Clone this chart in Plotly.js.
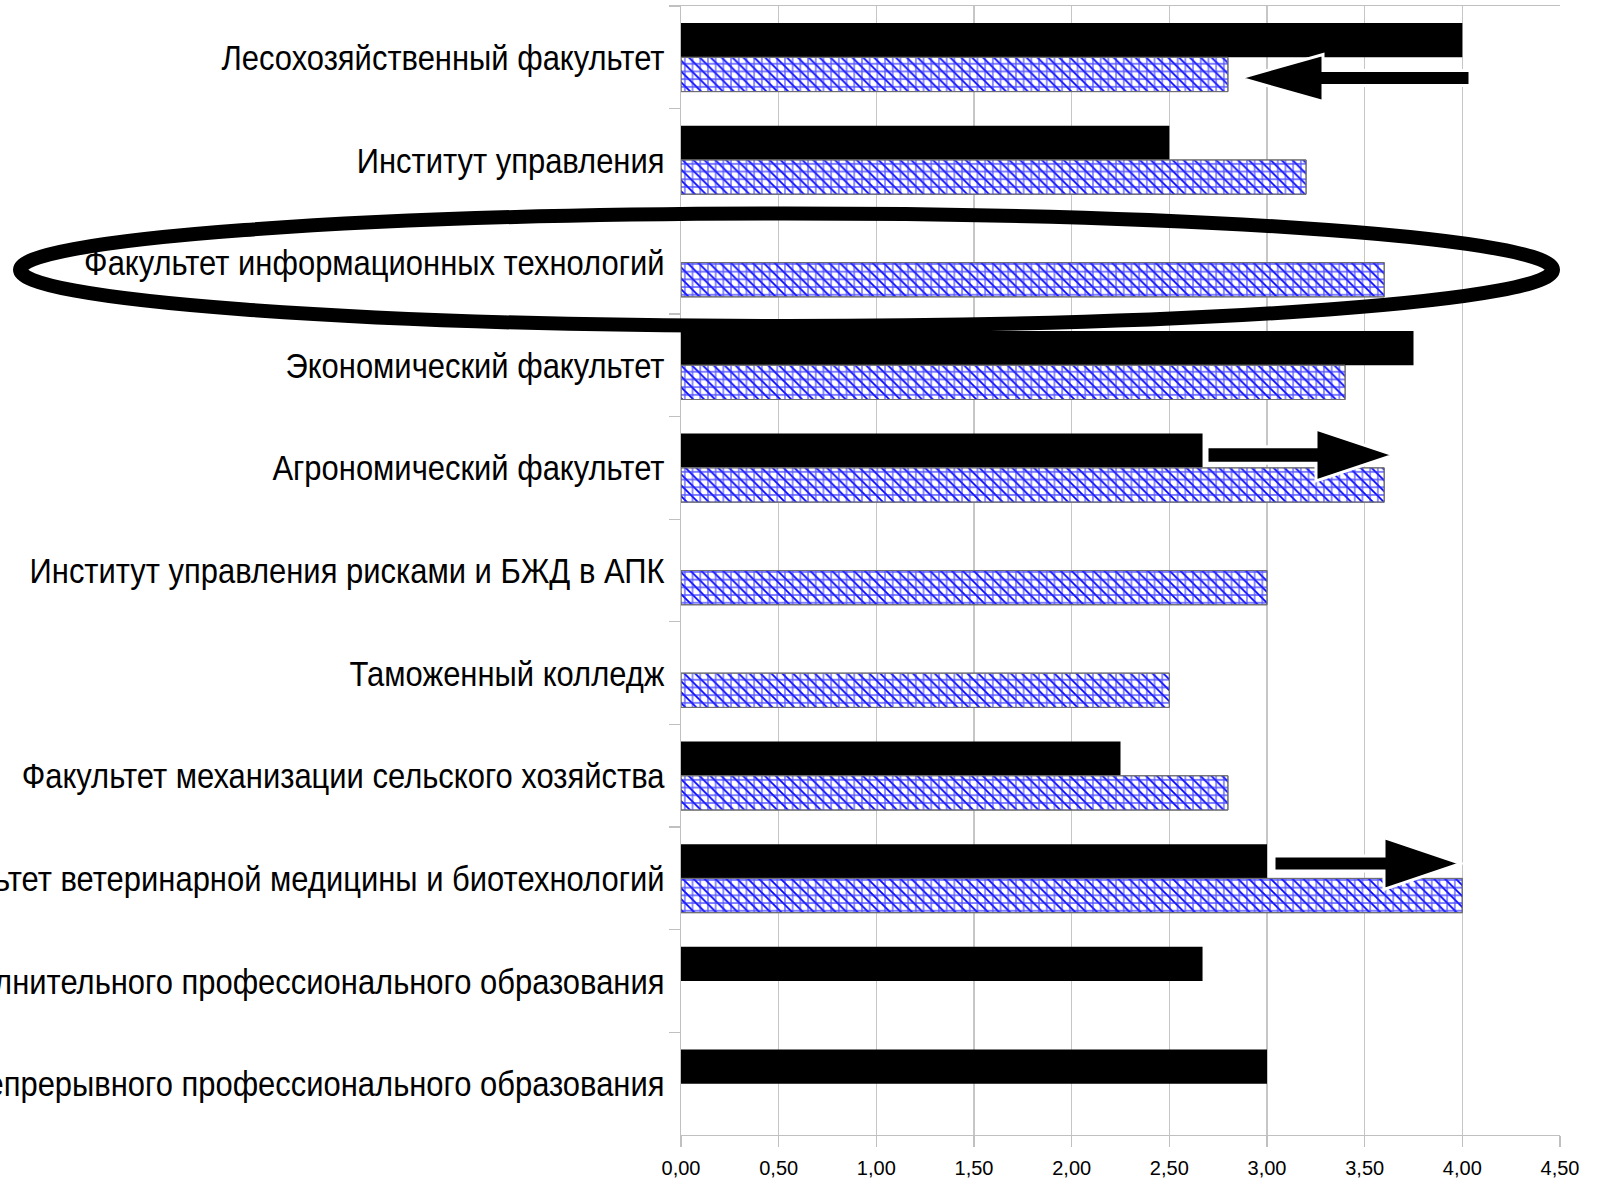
<!DOCTYPE html>
<html>
<head>
<meta charset="utf-8">
<script src="https://cdn.plot.ly/plotly-3.0.1.min.js"></script>
<style>html,body{margin:0;padding:0;background:#fff;}#chart{width:1603px;height:1182px;}</style>
</head>
<body>
<div id="chart"></div>
<script>
// ---- data ----
const categories = [
  "Лесохозяйственный факультет",
  "Институт управления",
  "Факультет информационных технологий",
  "Экономический факультет",
  "Агрономический факультет",
  "Институт управления рисками и БЖД в АПК",
  "Таможенный колледж",
  "Факультет механизации сельского хозяйства",
  "Факультет ветеринарной медицины и биотехнологий",
  "Институт дополнительного профессионального образования",
  "Институт непрерывного профессионального образования"
];
const seriesBlack = [4.00, 2.50, null, 3.75, 2.67, null, null, 2.25, 3.00, 2.67, 3.00];
const seriesHatched = [2.80, 3.20, 3.60, 3.40, 3.60, 3.00, 2.50, 2.80, 4.00, null, null];
const xTickVals = [0, 0.5, 1, 1.5, 2, 2.5, 3, 3.5, 4, 4.5];

// ---- layout geometry (pixels) ----
const W = 1603, H = 1182;
const L = 681, R = 1560, T = 6, B = 1135;
const px = X => (X - L) / (R - L);
const py = Y => (B - Y) / (B - T);

const barW = 0.334;

const traces = [
  {
    type: 'bar', orientation: 'h', y: categories, x: seriesBlack,
    width: barW, offset: -barW,
    marker: {color: '#000000', line: {width: 0}},
    hoverinfo: 'skip'
  },
  {
    type: 'bar', orientation: 'h', y: categories, x: seriesHatched,
    width: barW, offset: 0,
    marker: {
      color: '#ffffff',
      line: {color: '#6e6e6e', width: 1},
      pattern: {shape: '\\', size: 7.7, solidity: 0.22, fgcolor: '#0000ff', bgcolor: '#ffffff', fillmode: 'replace'}
    },
    hoverinfo: 'skip'
  },
  {
    type: 'bar', orientation: 'h', y: categories, x: seriesHatched,
    width: barW, offset: 0,
    marker: {
      color: 'rgba(255,255,255,0)',
      line: {color: '#6e6e6e', width: 1},
      pattern: {shape: '+', size: 7.7, solidity: 0.3, fgcolor: 'rgba(40,40,255,0.8)', bgcolor: 'rgba(255,255,255,0)', fillmode: 'replace'}
    },
    hoverinfo: 'skip'
  }
];

function arrowPath(xTail, xBase, xTip, yc, hs, hh) {
  const P = (X, Y) => px(X).toFixed(5) + ',' + py(Y).toFixed(5);
  return 'M' + P(xTail, yc - hs) + ' L' + P(xBase, yc - hs) + ' L' + P(xBase, yc - hh) +
         ' L' + P(xTip, yc) + ' L' + P(xBase, yc + hh) + ' L' + P(xBase, yc + hs) +
         ' L' + P(xTail, yc + hs) + ' Z';
}

const shapes = [
  {type: 'path', xref: 'paper', yref: 'paper', layer: 'above',
   path: arrowPath(1470, 1323, 1240, 78, 7.5, 23.5),
   fillcolor: '#000', line: {color: '#fff', width: 3}},
  {type: 'path', xref: 'paper', yref: 'paper', layer: 'above',
   path: arrowPath(1207, 1316, 1394, 455, 8.3, 26),
   fillcolor: '#000', line: {color: '#fff', width: 3}},
  {type: 'path', xref: 'paper', yref: 'paper', layer: 'above',
   path: arrowPath(1274, 1384, 1461, 863.5, 7.5, 26),
   fillcolor: '#000', line: {color: '#fff', width: 3}},
  {type: 'circle', xref: 'paper', yref: 'paper', layer: 'above',
   x0: px(20), x1: px(1553), y0: py(326), y1: py(213.5),
   fillcolor: 'rgba(0,0,0,0)', line: {color: '#000', width: 14}}
];

const layout = {
  width: W, height: H,
  margin: {l: L, r: W - R, t: T, b: H - B, pad: 0},
  paper_bgcolor: '#ffffff', plot_bgcolor: '#ffffff',
  barmode: 'overlay',
  showlegend: false,
  hovermode: false,
  separators: ', ',
  xaxis: {
    range: [0, 4.5], tickvals: xTickVals, tickformat: '.2f',
    showgrid: true, gridcolor: '#c6c6c6', gridwidth: 1.3,
    zeroline: false,
    showline: true, linecolor: '#c0c0c0', linewidth: 1.3, mirror: true,
    ticks: 'outside', ticklen: 11, tickcolor: '#c0c0c0', tickwidth: 1.3,
    tickfont: {family: 'Liberation Sans, Arial, sans-serif', size: 20, color: '#000'},
    ticklabelstandoff: 4,
    automargin: false, fixedrange: true
  },
  yaxis: {
    type: 'category', autorange: 'reversed',
    showgrid: false, zeroline: false,
    showline: true, linecolor: '#c0c0c0', linewidth: 1.3,
    ticks: 'outside', tickson: 'boundaries', ticklen: 11, tickcolor: '#c0c0c0', tickwidth: 1.3,
    tickfont: {family: 'Liberation Sans, Arial, sans-serif', size: 36, color: '#000'},
    ticklabelstandoff: 8,
    automargin: false, fixedrange: true
  },
  shapes: shapes
};

const LABEL_SQUEEZE = 0.86;
Plotly.newPlot('chart', traces, layout, {displayModeBar: false, staticPlot: true}).then(gd => {
  // category labels in the reference are set in a narrow face: squeeze them horizontally around their right end
  gd.querySelectorAll('.ytick text').forEach(t => {
    const x = parseFloat(t.getAttribute('x') || '0');
    const tr = t.getAttribute('transform') || '';
    t.setAttribute('transform', tr + ' translate(' + x + ',0) scale(' + LABEL_SQUEEZE + ',1) translate(' + (-x) + ',0)');
  });
});
</script>
</body>
</html>
